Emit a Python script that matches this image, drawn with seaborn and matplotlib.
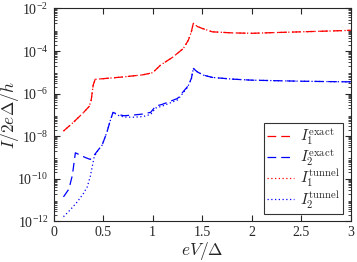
import matplotlib
matplotlib.use("Agg")
import matplotlib.pyplot as plt
import seaborn as sns
import numpy as np
import pandas as pd

# values (log10 of I / (2e Delta / h))
x_red = [0.10, 0.20, 0.30, 0.36, 0.38, 0.40, 0.42, 0.50, 0.70, 0.90, 1.00, 1.08,
         1.20, 1.31, 1.36, 1.39, 1.41, 1.45, 1.50, 1.60, 1.80, 2.00, 2.20, 2.50, 2.80, 3.00]
logI1 = [-7.76, -7.35, -6.90, -6.60, -6.30, -5.60, -5.33, -5.30, -5.22, -5.12, -5.02, -4.66,
         -4.30, -3.88, -3.49, -3.10, -2.70, -2.85, -2.94, -3.10, -3.15, -3.17, -3.14, -3.10, -3.06, -3.03]

x_blue = [0.10, 0.155, 0.19, 0.22, 0.27, 0.32, 0.37, 0.41, 0.45, 0.49, 0.54, 0.57, 0.60,
          0.65, 0.71, 0.80, 0.90, 0.98, 1.03, 1.10, 1.25, 1.35, 1.39, 1.41, 1.45, 1.51,
          1.60, 1.80, 2.00, 2.50, 3.00]
logI2 = [-10.85, -10.48, -9.83, -8.78, -8.89, -9.00, -9.09, -8.89, -8.65, -8.42, -7.79, -7.30, -6.88,
         -6.98, -7.04, -7.01, -6.96, -6.88, -6.59, -6.50, -6.23, -5.68, -5.30, -4.82, -4.98, -5.13,
         -5.24, -5.32, -5.37, -5.42, -5.45]

x_tun2 = [0.10, 0.17, 0.24, 0.30, 0.34, 0.37, 0.39, 0.41, 0.45, 0.49, 0.54, 0.57, 0.60,
          0.65, 0.71, 0.80, 0.90, 0.98, 1.03, 1.10, 1.25, 1.35, 1.39, 1.41, 1.45, 1.51,
          1.60, 1.80, 2.00, 2.50, 3.00]
logT2 = [-11.78, -11.45, -11.08, -10.70, -10.38, -9.90, -9.44, -8.97, -8.65, -8.42, -7.79, -7.30, -6.88,
         -7.02, -7.10, -7.11, -7.08, -6.98, -6.68, -6.58, -6.30, -5.72, -5.32, -4.82, -4.98, -5.13,
         -5.24, -5.32, -5.37, -5.42, -5.45]

yticks_exp = [-12, -10, -8, -6, -4, -2]
xticks = [0, 0.5, 1, 1.5, 2, 2.5, 3]
xtick_labels = ['0', '0.5', '1', '1.5', '2', '2.5', '3']

sns.set_style("ticks")
plt.rcParams['font.family'] = ['Liberation Serif', 'DejaVu Serif']
plt.rcParams['mathtext.fontset'] = 'cm'
plt.rcParams['xtick.direction'] = 'in'
plt.rcParams['ytick.direction'] = 'in'

df1 = pd.DataFrame({'x': x_red, 'y': np.power(10.0, logI1)})
df2 = pd.DataFrame({'x': x_blue, 'y': np.power(10.0, logI2)})
df3 = pd.DataFrame({'x': x_tun2, 'y': np.power(10.0, logT2)})

fig, ax = plt.subplots(figsize=(3.57, 2.62), dpi=100)
sns.lineplot(data=df1, x='x', y='y', ax=ax, color='red', lw=0.9,
             linestyle=(0, (7, 4)), label=r'$I_1^{\rm exact}$')
sns.lineplot(data=df2, x='x', y='y', ax=ax, color='blue', lw=0.9,
             linestyle=(0, (7, 4)), label=r'$I_2^{\rm exact}$')
sns.lineplot(data=df1, x='x', y='y', ax=ax, color='red', lw=0.9,
             linestyle=(0, (1, 2)), label=r'$I_1^{\rm tunnel}$')
sns.lineplot(data=df3, x='x', y='y', ax=ax, color='blue', lw=0.9,
             linestyle=(0, (1, 2)), label=r'$I_2^{\rm tunnel}$')

ax.set_yscale('log')
ax.set_xlim(0, 3)
ax.set_ylim(1e-12, 1e-2)
ax.set_yticks([10.0 ** e for e in yticks_exp])
ax.set_yticklabels([r'10$^{\mathregular{%d}}$' % e for e in yticks_exp])
ax.set_xticks(xticks)
ax.set_xticklabels(xtick_labels)
ax.yaxis.set_minor_locator(matplotlib.ticker.LogLocator(base=10, subs=np.arange(2, 10), numticks=20))
ax.yaxis.set_minor_formatter(matplotlib.ticker.NullFormatter())
ax.tick_params(which='both', top=True, right=True, labelsize=10)
ax.tick_params(which='major', length=4, width=0.8)
ax.tick_params(which='minor', length=2, width=0.6)
for s in ax.spines.values():
    s.set_linewidth(0.8)
ax.set_xlabel(r'$eV/\Delta$', fontsize=12.5)
ax.set_ylabel(r'$I/2e\Delta/h$', fontsize=12.5)
ax.xaxis.set_label_coords(0.5, -0.088)
ax.yaxis.set_label_coords(-0.108, 0.5)

leg = ax.legend(loc='lower right', fontsize=11, frameon=True, fancybox=False,
                edgecolor='black', handlelength=1.8, borderpad=0.2, labelspacing=0.0,
                handletextpad=0.4, borderaxespad=0.5)
leg.get_frame().set_linewidth(0.8)

fig.subplots_adjust(left=0.15, right=0.983, top=0.968, bottom=0.155)
fig.savefig('out.png', dpi=100)
